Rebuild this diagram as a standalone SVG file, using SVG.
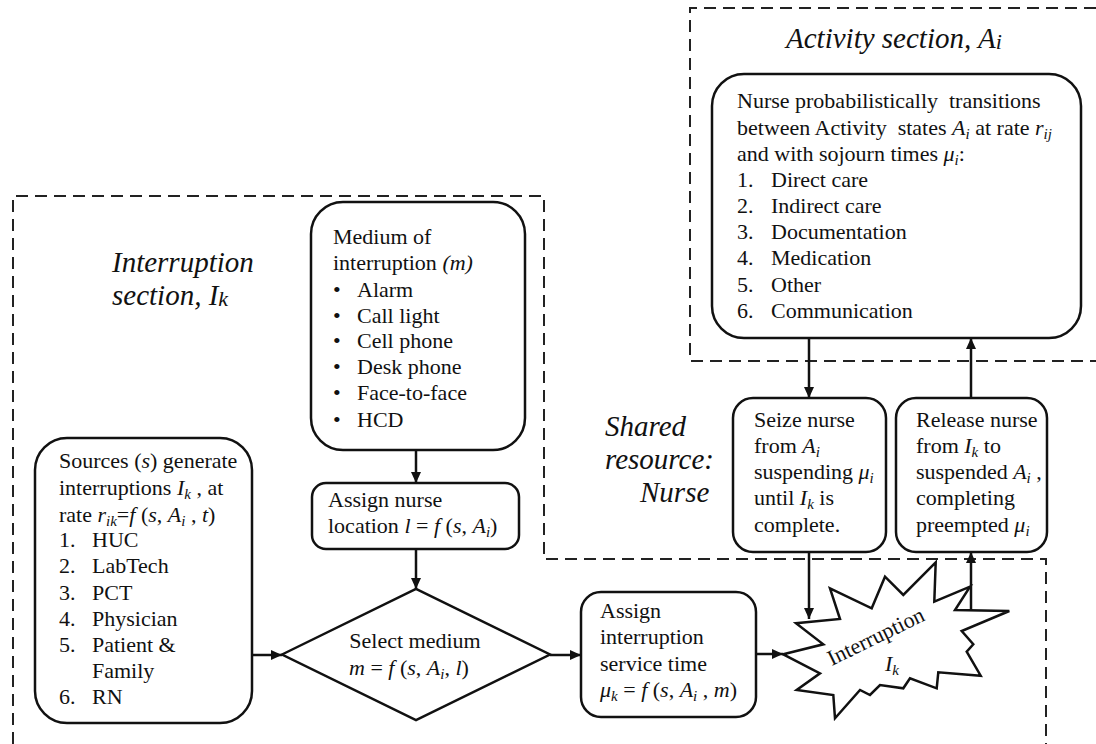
<svg xmlns="http://www.w3.org/2000/svg" width="1096" height="744" viewBox="0 0 1096 744">
<style>
text{font-family:"Liberation Serif","Times New Roman",serif;font-size:22px;fill:#111}
.it{font-style:italic}
.sub{font-size:15px}
.title{font-size:29px;font-style:italic}
.box{fill:#fff;stroke:#111;stroke-width:2.5}
.dash{fill:none;stroke:#222;stroke-width:2;stroke-dasharray:12 7}
.conn{fill:none;stroke:#111;stroke-width:2.5}
</style>
<defs>
<marker id="arr" markerUnits="userSpaceOnUse" markerWidth="12" markerHeight="10" refX="11" refY="5" orient="auto">
<path d="M0,0 L11,5 L0,10 z" fill="#111"/>
</marker>
</defs>

<g id="sections">
<path class="dash" d="M13,744 V196 H544 V559 H1046 V744"/>
<path class="dash" d="M1096,8 H690 V361 H1096"/>
<text class="title" x="786" y="48">Activity section, A<tspan font-size="22" dy="1">i</tspan></text>
<text class="title" x="112" y="272">Interruption</text>
<text class="title" x="112" y="305">section, I<tspan font-size="22" dy="1">k</tspan></text>
<text class="title" x="605" y="436">Shared</text>
<text class="title" x="605" y="469">resource:</text>
<text class="title" x="640" y="502">Nurse</text>
</g>

<g id="activity">
<rect class="box" x="712" y="74" width="369" height="264" rx="32"/>
<text x="737" y="108" xml:space="preserve">Nurse probabilistically  transitions</text>
<text x="737" y="135" xml:space="preserve">between Activity  states <tspan class="it">A</tspan><tspan class="sub it" dy="4">i</tspan><tspan dy="-4"> at rate </tspan><tspan class="it">r</tspan><tspan class="sub it" dy="4">ij</tspan></text>
<text x="737" y="161">and with sojourn times <tspan class="it">μ</tspan><tspan class="sub it" dy="4">i</tspan><tspan dy="-4">:</tspan></text>
<text x="737" y="187">1.</text><text x="771" y="187">Direct care</text>
<text x="737" y="213">2.</text><text x="771" y="213">Indirect care</text>
<text x="737" y="239">3.</text><text x="771" y="239">Documentation</text>
<text x="737" y="265">4.</text><text x="771" y="265">Medication</text>
<text x="737" y="292">5.</text><text x="771" y="292">Other</text>
<text x="737" y="318">6.</text><text x="771" y="318">Communication</text>
</g>

<g id="seize">
<rect class="box" x="733" y="398" width="153" height="154" rx="20"/>
<text x="754" y="427">Seize nurse</text>
<text x="754" y="453">from <tspan class="it">A</tspan><tspan class="sub it" dy="4">i</tspan></text>
<text x="754" y="479">suspending <tspan class="it">μ</tspan><tspan class="sub it" dy="4">i</tspan></text>
<text x="754" y="505">until <tspan class="it">I</tspan><tspan class="sub it" dy="4">k</tspan><tspan dy="-4"> is</tspan></text>
<text x="754" y="532">complete.</text>
</g>

<g id="release">
<rect class="box" x="896" y="398" width="151" height="154" rx="20"/>
<text x="916" y="427">Release nurse</text>
<text x="916" y="453">from <tspan class="it">I</tspan><tspan class="sub it" dy="4">k</tspan><tspan dy="-4"> to</tspan></text>
<text x="916" y="479">suspended <tspan class="it">A</tspan><tspan class="sub it" dy="4">i</tspan><tspan dy="-4"> ,</tspan></text>
<text x="916" y="505">completing</text>
<text x="916" y="532">preempted <tspan class="it">μ</tspan><tspan class="sub it" dy="4">i</tspan></text>
</g>

<g id="sources">
<rect class="box" x="35" y="438" width="217" height="285" rx="32"/>
<text x="59" y="468">Sources (<tspan class="it">s</tspan>) generate</text>
<text x="59" y="495">interruptions <tspan class="it">I</tspan><tspan class="sub it" dy="4">k</tspan><tspan dy="-4"> , at</tspan></text>
<text x="59" y="522">rate <tspan class="it">r</tspan><tspan class="sub it" dy="4">ik</tspan><tspan dy="-4">=</tspan><tspan class="it">f</tspan> (<tspan class="it">s</tspan>, <tspan class="it">A</tspan><tspan class="sub it" dy="4">i</tspan><tspan dy="-4"> , </tspan><tspan class="it">t</tspan>)</text>
<text x="59" y="547">1.</text><text x="92" y="547">HUC</text>
<text x="59" y="573">2.</text><text x="92" y="573">LabTech</text>
<text x="59" y="600">3.</text><text x="92" y="600">PCT</text>
<text x="59" y="626">4.</text><text x="92" y="626">Physician</text>
<text x="59" y="652">5.</text><text x="92" y="652">Patient &amp;</text>
<text x="92" y="678">Family</text>
<text x="59" y="704">6.</text><text x="92" y="704">RN</text>
</g>

<g id="medium">
<rect class="box" x="311" y="202" width="214" height="248" rx="32"/>
<text x="333" y="244">Medium of</text>
<text x="333" y="270">interruption <tspan class="it">(m)</tspan></text>
<text x="333" y="297">•</text><text x="357" y="297">Alarm</text>
<text x="333" y="323">•</text><text x="357" y="323">Call light</text>
<text x="333" y="348">•</text><text x="357" y="348">Cell phone</text>
<text x="333" y="374">•</text><text x="357" y="374">Desk phone</text>
<text x="333" y="400">•</text><text x="357" y="400">Face-to-face</text>
<text x="333" y="427">•</text><text x="357" y="427">HCD</text>
</g>

<g id="location">
<rect class="box" x="312" y="483" width="207" height="66" rx="14"/>
<text x="328" y="507">Assign nurse</text>
<text x="328" y="533">location <tspan class="it">l</tspan> = <tspan class="it">f</tspan> (<tspan class="it">s</tspan>, <tspan class="it">A</tspan><tspan class="sub it" dy="4">i</tspan><tspan dy="-4">)</tspan></text>
</g>

<g id="select">
<polygon class="box" points="282,654.5 416,589 550,654.5 416,720"/>
<text x="415" y="648" text-anchor="middle">Select medium</text>
<text x="349" y="675"><tspan class="it">m</tspan> = <tspan class="it">f</tspan> (<tspan class="it">s</tspan>, <tspan class="it">A</tspan><tspan class="sub it" dy="4">i</tspan><tspan dy="-4">, </tspan><tspan class="it">l</tspan>)</text>
</g>

<g id="service">
<rect class="box" x="581" y="592" width="175" height="125" rx="20"/>
<text x="600" y="618">Assign</text>
<text x="600" y="644">interruption</text>
<text x="600" y="671">service time</text>
<text x="600" y="697"><tspan class="it">μ</tspan><tspan class="sub it" dy="4">k</tspan><tspan dy="-4"> = </tspan><tspan class="it">f</tspan> (<tspan class="it">s</tspan>, <tspan class="it">A</tspan><tspan class="sub it" dy="4">i</tspan><tspan dy="-4"> , </tspan><tspan class="it">m</tspan>)</text>
</g>

<g id="interruption">
<polygon class="box" points="783.3,654.3 823.3,644.3 796,623.3 840,619 830,588.3 871.7,608.3 885,576.7 903.3,595 935.7,562.3 934.3,601.7 970,586.7 955,610 1009.3,611 961.7,631 973.3,644.3 966.7,651.7 980.7,675.7 938.3,672.3 936.7,688.3 910,678.3 903.3,688.3 880,685 870,695 860,690 835,718.3 833.3,695 796.7,690 820,673.3"/>
<text x="879" y="643" text-anchor="middle" transform="rotate(-26 879 643)">Interruption</text>
<text x="885" y="671"><tspan class="it">I</tspan><tspan class="sub it" dy="4">k</tspan></text>
</g>

<g id="connectors">
<path class="conn" d="M416,450 V483" marker-end="url(#arr)"/>
<path class="conn" d="M416,549 V589" marker-end="url(#arr)"/>
<path class="conn" d="M252,655 H282" marker-end="url(#arr)"/>
<path class="conn" d="M550,655 H581" marker-end="url(#arr)"/>
<path class="conn" d="M756,654 H783" marker-end="url(#arr)"/>
<path class="conn" d="M809,338 V398" marker-end="url(#arr)"/>
<path class="conn" d="M809,552 V619" marker-end="url(#arr)"/>
<path class="conn" d="M971,611 V552" marker-end="url(#arr)"/>
<path class="conn" d="M971,398 V338" marker-end="url(#arr)"/>
</g>
</svg>
